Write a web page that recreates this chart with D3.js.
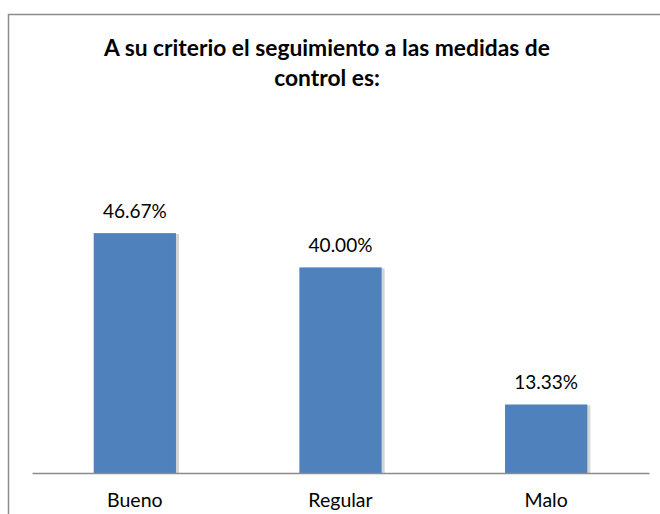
<!DOCTYPE html>
<html>
<head>
<meta charset="utf-8">
<script src="https://cdn.jsdelivr.net/npm/d3@7"></script>
<style>
  html, body { margin: 0; padding: 0; background: #fff; }
  svg { display: block; }
</style>
</head>
<body>
<svg id="chart" width="660" height="514"></svg>
<script>
// Survey results: perceived follow-up of control measures
const categories = ["Bueno", "Regular", "Malo"];
const percentages = [46.67, 40.00, 13.33];
const titleLines = ["A su criterio el seguimiento a las medidas de", "control es:"];

const W = 660, H = 514;
const svg = d3.select("#chart");
const font = "Lato, 'Open Sans', sans-serif";

// outer chart frame (right and bottom sides fall outside the canvas)
svg.append("rect")
  .attr("x", 8.5).attr("y", 14.5)
  .attr("width", W + 10).attr("height", H + 10)
  .attr("fill", "#fff")
  .attr("stroke", "#8c8c8c").attr("stroke-width", 1.5);

// title
svg.append("g").selectAll("text")
  .data(titleLines)
  .join("text")
  .attr("x", 327)
  .attr("y", (d, i) => 56 + i * 30)
  .attr("text-anchor", "middle")
  .attr("font-family", font)
  .attr("font-weight", "bold")
  .attr("font-size", 22.8)
  .attr("fill", "#000")
  .text(d => d);

const baseY = 473;
const x = d3.scaleBand()
  .domain(categories)
  .range([32, 649])
  .paddingInner(0.6)
  .paddingOuter(0.3);

const y = d3.scaleLinear()
  .domain([0, 50])
  .range([baseY, baseY - 257]);

const data = categories.map((c, i) => ({ cat: c, value: percentages[i] }));

// soft shadow behind bars
svg.append("g").selectAll("rect")
  .data(data)
  .join("rect")
  .attr("x", d => x(d.cat) + 1.5)
  .attr("y", d => y(d.value) + 1)
  .attr("width", x.bandwidth() + 1.5)
  .attr("height", d => baseY - y(d.value) - 1)
  .attr("fill", "#d4d4d4");

// bars
svg.append("g").selectAll("rect")
  .data(data)
  .join("rect")
  .attr("x", d => x(d.cat))
  .attr("y", d => y(d.value))
  .attr("width", x.bandwidth())
  .attr("height", d => baseY - y(d.value))
  .attr("fill", "#4f81bd");

// category axis
const axis = svg.append("g")
  .attr("transform", `translate(0,${baseY})`)
  .call(d3.axisBottom(x).tickSize(0).tickPadding(20));
axis.select(".domain").attr("stroke", "#8c8c8c").attr("stroke-width", 1.5);
axis.selectAll("text")
  .attr("font-family", font)
  .attr("font-size", 19.5)
  .attr("fill", "#000");

// value labels
svg.append("g").selectAll("text")
  .data(data)
  .join("text")
  .attr("x", d => x(d.cat) + x.bandwidth() / 2)
  .attr("y", d => y(d.value) - 15)
  .attr("text-anchor", "middle")
  .attr("font-family", font)
  .attr("font-size", 19)
  .attr("fill", "#000")
  .text(d => d.value.toFixed(2) + "%");
</script>
</body>
</html>
